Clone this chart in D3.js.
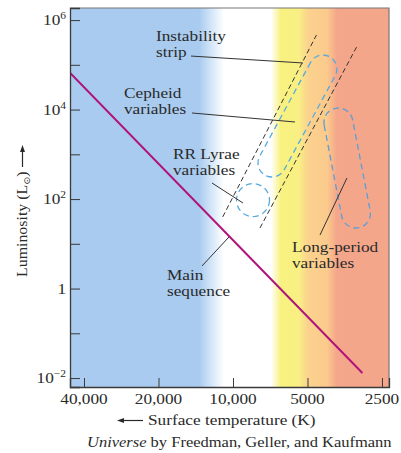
<!DOCTYPE html>
<html><head><meta charset="utf-8">
<script src="https://cdn.jsdelivr.net/npm/d3@7"></script>
<style>
html,body{margin:0;padding:0;background:#fff;}
svg{display:block;}
</style></head><body>
<svg id="chart" width="401" height="453"></svg>
<script>
// ---------------- data ----------------
const xTickValues = [40000, 20000, 10000, 5000, 2500];
const xTickLabels = ["40,000", "20,000", "10,000", "5000", "2500"];
const yMajorValues = [1e6, 1e4, 1e2, 1, 1e-2];
const yMajorBase = ["10", "10", "10", "1", "10"];
const yMajorExp = ["6", "4", "2", "", "\u22122"];
const yMinorValues = [1e5, 1e3, 10, 0.1];

const mainSeqT = [45500, 3000];
const mainSeqL = [66000, 0.013];

const stripLeftT = [11000, 4600];
const stripLeftL = [40, 464000];
const stripRightT = [7780, 3150];
const stripRightL = [22.6, 264000];

const cepheidT = [4330, 6960];
const cepheidL = [80700, 640];
const longPeriodT = [3750, 3185];
const longPeriodL = [5140, 47.6];
const rrLyraeT = [8300];
const rrLyraeL = [95];

const annotationLines = [["Instability", "strip"], ["Cepheid", "variables"], ["RR Lyrae", "variables"], ["Main", "sequence"], ["Long-period", "variables"]];
const leaderT = [[14780, 5213], [14640, 5618], [12160, 9112], [13340, 10380], [3463, 4450]];
const leaderL = [[157000, 110000], [8390, 5280], [229, 81.7], [3.2, 14.2], [296, 15.7]];

const xTitle = "Surface temperature (K)";
const yTitle = "Luminosity (L";
const captionItalic = "Universe";
const captionRest = " by Freedman, Geller, and Kaufmann";

// ---------------- layout ----------------
const svg = d3.select("#chart");
const L = 70, R = 389, T = 8, B = 387;
const SX = 1.15;
const FONT = "'Liberation Serif', 'Times New Roman', serif";
const INK = "#2a2a2a";

const x = d3.scaleLog().domain([45560, 2342]).range([L, R]);
const y = d3.scaleLog().domain([Math.pow(10, -2.2), Math.pow(10, 6.27)]).range([B, T]);

// background gradient
const defs = svg.append("defs");
const grad = defs.append("linearGradient").attr("id", "bg")
  .attr("gradientUnits", "userSpaceOnUse").attr("x1", L).attr("x2", R).attr("y1", 0).attr("y2", 0);
const stops = [[L, "#a9cbef"], [199, "#a9cbef"], [211, "#d2e5f8"], [224, "#ffffff"], [271, "#ffffff"],
  [281, "#f8f17f"], [299, "#f9ef84"], [308, "#fbd28e"], [327, "#fbca8c"], [337, "#f4a68b"], [R, "#f4a68b"]];
stops.forEach(s => grad.append("stop").attr("offset", (s[0] - L) / (R - L)).attr("stop-color", s[1]));
defs.append("clipPath").attr("id", "clip").append("rect").attr("x", L).attr("y", T).attr("width", R - L).attr("height", B - T);

svg.append("rect").attr("x", L).attr("y", T).attr("width", R - L).attr("height", B - T).attr("fill", "url(#bg)");

const plot = svg.append("g").attr("clip-path", "url(#clip)");

// main sequence
const line = d3.line().x(d => x(d[0])).y(d => y(d[1]));
plot.append("path").datum(mainSeqT.map((t, i) => [t, mainSeqL[i]]))
  .attr("d", line).attr("fill", "none").attr("stroke", "#b0137b").attr("stroke-width", 2);

// instability strip boundaries
[[stripLeftT, stripLeftL], [stripRightT, stripRightL]].forEach(([ts, ls]) => {
  plot.append("path").datum(ts.map((t, i) => [t, ls[i]]))
    .attr("d", line).attr("fill", "none").attr("stroke", "#333").attr("stroke-width", 1)
    .attr("stroke-dasharray", "5,3");
});

// capsules
function capsule(ts, ls, r) {
  const p1 = [x(ts[0]), y(ls[0])], p2 = [x(ts[1]), y(ls[1])];
  const dx = p2[0] - p1[0], dy = p2[1] - p1[1], len = Math.hypot(dx, dy);
  const ux = dx / len, uy = dy / len, nx = -uy * r, ny = ux * r;
  return `M${p1[0] + nx},${p1[1] + ny}L${p2[0] + nx},${p2[1] + ny}A${r},${r} 0 0 0 ${p2[0] - nx},${p2[1] - ny}` +
    `L${p1[0] - nx},${p1[1] - ny}A${r},${r} 0 0 0 ${p1[0] + nx},${p1[1] + ny}Z`;
}
const capColor = "#58abde";
plot.append("path").attr("d", capsule(cepheidT, cepheidL, 14)).attr("fill", "none")
  .attr("stroke", capColor).attr("stroke-width", 1.3).attr("stroke-dasharray", "6,4");
plot.append("path").attr("d", capsule(longPeriodT, longPeriodL, 14.5)).attr("fill", "none")
  .attr("stroke", "#5a9fd6").attr("stroke-width", 1.3).attr("stroke-dasharray", "6,4");
plot.selectAll("circle.rr").data(rrLyraeT).enter().append("circle").attr("class", "rr")
  .attr("cx", d => x(d)).attr("cy", (d, i) => y(rrLyraeL[i])).attr("r", 16.5)
  .attr("fill", "none").attr("stroke", capColor).attr("stroke-width", 1.3).attr("stroke-dasharray", "6,4");

// leader lines
plot.selectAll("line.leader").data(leaderT).enter().append("line").attr("class", "leader")
  .attr("x1", d => x(d[0])).attr("x2", d => x(d[1]))
  .attr("y1", (d, i) => y(leaderL[i][0])).attr("y2", (d, i) => y(leaderL[i][1]))
  .attr("stroke", "#333").attr("stroke-width", 1);

// text helper
function stext(g, px, py, anchor, size, sx) {
  return g.append("text").attr("transform", `translate(${px},${py}) scale(${sx || SX},1)`)
    .attr("text-anchor", anchor || "start").attr("font-family", FONT).attr("font-size", size || 15)
    .attr("fill", INK);
}
// annotation labels
const annPos = [[156, 41], [124, 98], [173, 159], [167, 280], [292, 252]];
annotationLines.forEach((lines, i) => {
  lines.forEach((s, j) => stext(svg, annPos[i][0], annPos[i][1] + j * 16).text(s));
});

// frame
svg.append("path").attr("d", `M${L},${T}H${R}V${B}`).attr("fill", "none").attr("stroke", "#777").attr("stroke-width", 1.2);

// axes (ticks inward)
const yAxis = d3.axisLeft(y).tickValues(yMajorValues.concat(yMinorValues)).tickSize(-10).tickFormat("");
const gy = svg.append("g").attr("transform", `translate(${L},0)`).call(yAxis);
const xAxis = d3.axisBottom(x).tickValues(xTickValues).tickSize(-9).tickFormat("");
const gx = svg.append("g").attr("transform", `translate(0,${B})`).call(xAxis);
[gx, gy].forEach(g => {
  g.select(".domain").attr("stroke", "#3a3a3a").attr("stroke-width", 1.3);
  g.selectAll(".tick line").attr("stroke", "#3a3a3a").attr("stroke-width", 1);
});

// x tick labels
xTickValues.forEach((v, i) => stext(svg, x(v), 404, "middle").text(xTickLabels[i]));
// y tick labels
yMajorValues.forEach((v, i) => {
  const t = stext(svg, 66, y(v) + 5, "end");
  if (yMajorExp[i]) {
    t.append("tspan").text(yMajorBase[i]);
    t.append("tspan").attr("font-size", 10).attr("dy", -6).text(yMajorExp[i]);
  } else {
    t.text(yMajorBase[i]);
  }
});

// x title with arrow
stext(svg, 148, 425, "start").text(xTitle);
svg.append("line").attr("x1", 122).attr("x2", 143).attr("y1", 420.5).attr("y2", 420.5).attr("stroke", INK).attr("stroke-width", 1.2);
svg.append("path").attr("d", "M117,420.5L124,418L124,423Z").attr("fill", INK);

// y title with arrow
const yt = svg.append("text").attr("transform", `translate(27,277) rotate(-90) scale(1.06,1)`)
  .attr("font-family", FONT).attr("font-size", 15).attr("fill", INK);
yt.append("tspan").text(yTitle);
yt.append("tspan").attr("font-size", 9).attr("dy", 3).attr("font-family", "'DejaVu Sans', sans-serif").text("\u2299");
yt.append("tspan").attr("dy", -3).text(")");
svg.append("line").attr("x1", 22.5).attr("x2", 22.5).attr("y1", 167).attr("y2", 151).attr("stroke", INK).attr("stroke-width", 1.2);
svg.append("path").attr("d", "M22.5,145L20,152L25,152Z").attr("fill", INK);

// caption
const cap = stext(svg, 87, 447, "start", 15, 1.1);
cap.append("tspan").attr("font-style", "italic").text(captionItalic);
cap.append("tspan").text(captionRest);
</script>
</body></html>
